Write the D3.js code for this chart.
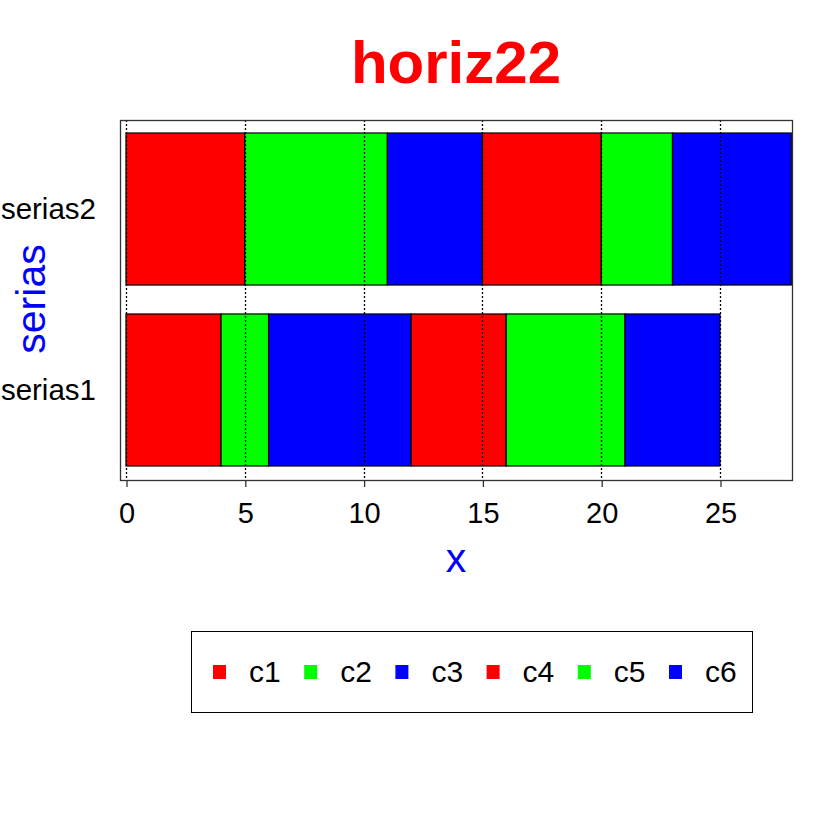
<!DOCTYPE html>
<html><head><meta charset="utf-8">
<script src="https://cdn.jsdelivr.net/npm/d3@7"></script>
<style>body{margin:0;background:#fff}svg{display:block;font-family:"Liberation Sans",Arial,sans-serif}</style>
</head><body>
<svg id="c" width="840" height="840"></svg>
<script>
const categories = ["serias1", "serias2"];
const seriesNames = ["c1", "c2", "c3", "c4", "c5", "c6"];
const seriesColors = ["#ff0000", "#00ff00", "#0000ff", "#ff0000", "#00ff00", "#0000ff"];
const values = {
  serias1: [4, 2, 6, 4, 5, 4],
  serias2: [5, 6, 4, 5, 3, 5]
};
const xTicks = [0, 5, 10, 15, 20, 25];

const svg = d3.select("#c");
const box = {left: 120, right: 792, top: 120, bottom: 480};
const x = d3.scaleLinear().domain([0, 28]).range([126, 791.3]);
const y = d3.scaleBand().domain(["serias2", "serias1"]).range([133, 466]).paddingInner(0.16).paddingOuter(0);

// bars
const g = svg.append("g");
categories.forEach(cat => {
  let acc = 0;
  values[cat].forEach((v, i) => {
    g.append("rect")
      .attr("x", x(acc)).attr("y", y(cat))
      .attr("width", x(acc + v) - x(acc)).attr("height", y.bandwidth())
      .attr("fill", seriesColors[i]).attr("stroke", "#000").attr("stroke-width", 1.2);
    acc += v;
  });
});

// gridlines on top
svg.append("g").selectAll("line").data(xTicks).join("line")
  .attr("x1", d => Math.round(x(d)) + 0.5).attr("x2", d => Math.round(x(d)) + 0.5)
  .attr("y1", box.top).attr("y2", box.bottom)
  .attr("stroke", "#000").attr("stroke-width", 1.3).attr("stroke-dasharray", "2,2");

// box
svg.append("rect").attr("x", box.left + 0.5).attr("y", box.top + 0.5)
  .attr("width", box.right - box.left).attr("height", box.bottom - box.top)
  .attr("fill", "none").attr("stroke", "#333").attr("stroke-width", 1.3);

// x axis
const xa = svg.append("g").attr("transform", `translate(0.5,${box.bottom})`)
  .call(d3.axisBottom(x).tickValues(xTicks).tickSize(7).tickPadding(10).tickSizeOuter(0));
xa.select(".domain").remove();
xa.selectAll("line").attr("stroke", "#333").attr("stroke-width", 1.3);
xa.selectAll("text").attr("font-size", 29).attr("fill", "#000").attr("font-family", "Liberation Sans, Arial, sans-serif")
  .attr("dy", null).attr("y", 43);

// y labels
svg.append("g").selectAll("text").data(categories).join("text")
  .attr("x", 96).attr("y", d => y(d) + y.bandwidth() / 2 + 10)
  .attr("text-anchor", "end").attr("font-size", 29.5).attr("fill", "#000").text(d => d);

// axis titles
svg.append("text").attr("x", 456).attr("y", 572).attr("text-anchor", "middle")
  .attr("font-size", 41).attr("fill", "#0000ff").text("x");
svg.append("text").attr("transform", "translate(45,299) rotate(-90)").attr("text-anchor", "middle")
  .attr("font-size", 41).attr("fill", "#0000ff").text("serias");

// title
svg.append("text").attr("x", 456).attr("y", 83).attr("text-anchor", "middle")
  .attr("font-size", 60).attr("font-weight", "bold").attr("fill", "#ff0000").text("horiz22");

// legend
svg.append("rect").attr("x", 191.5).attr("y", 631.5).attr("width", 561).attr("height", 81)
  .attr("fill", "none").attr("stroke", "#000").attr("stroke-width", 1);
const lg = svg.append("g").selectAll("g").data(seriesNames).join("g")
  .attr("transform", (d, i) => `translate(${213 + i * 91.2},672)`);
lg.append("rect").attr("x", 0).attr("y", -7).attr("width", 13).attr("height", 14)
  .attr("fill", (d, i) => seriesColors[i]);
lg.append("text").attr("x", 36).attr("y", 10).attr("font-size", 30).attr("fill", "#000").text(d => d);
</script>
</body></html>
